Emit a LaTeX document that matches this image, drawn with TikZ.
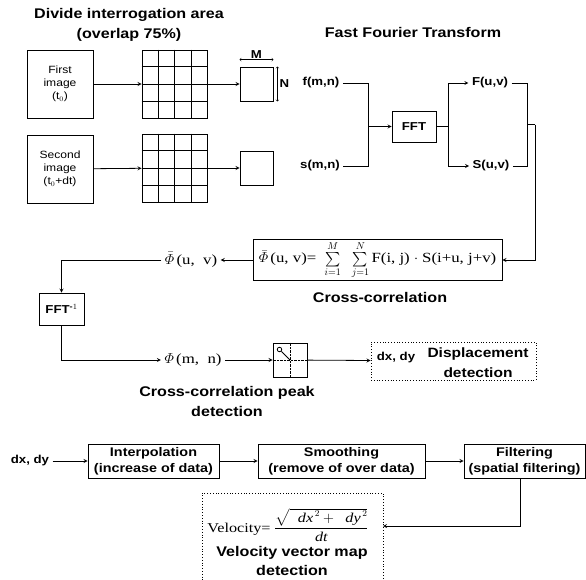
\documentclass[tikz,border=0pt]{standalone}
\usepackage{amsmath}
\usepackage{fontspec}
\setmainfont{Liberation Sans}[FakeStretch=1.15]
\newfontfamily\serif{Liberation Serif}[FakeStretch=1.2]
\usetikzlibrary{calc}
\tikzset{
    % lines and arrows
    myarr/.style={-stealth, thick},
    dimarr/.style={<->, thin},
    % boxes
    mybox/.style={draw, thick, align=center, inner sep=1pt},
    dotbox/.style={draw, dotted, thick},
    % texts
    myhead/.style={font=\fontsize{14}{20}\selectfont\bfseries, align=center},
    mylab/.style={font=\fontsize{11.5}{16}\selectfont\bfseries, align=center},
    boxlab/.style={font=\fontsize{12.5}{16}\selectfont\bfseries, align=center},
    mytxt/.style={font=\fontsize{10.5}{13}\selectfont, align=center},
    myser/.style={font=\serif\fontsize{14}{16}\selectfont}
}
\begin{document}
\begin{tikzpicture}[x=1pt, y=-1pt]
    \useasboundingbox (0,0) rectangle (586,579);

    % INTERROGATION AREAS
    \node (T1) at (129,25) [myhead] {Divide interrogation area\\(overlap 75\%)};
    \node (I1) at (60,84) [mybox, mytxt, minimum width=66, minimum height=68] {First\\image\\(t$_0$)};
    \node (I2) at (60,169) [mybox, mytxt, minimum width=66, minimum height=68] {Second\\image\\(t$_0$+dt)};
    \node (G1) at (174.5,84) [mybox, minimum width=65, minimum height=68] {};
    \node (G2) at (174.5,168) [mybox, minimum width=65, minimum height=68] {};
    \foreach \g in {G1,G2}{
        \foreach \f in {0.25,0.5,0.75}{
            \draw[thick] ($(\g.north west)!\f!(\g.north east)$) -- ($(\g.south west)!\f!(\g.south east)$);
            \draw[thick] ($(\g.north west)!\f!(\g.south west)$) -- ($(\g.north east)!\f!(\g.south east)$);
        }
    }
    \node (W1) at (256.5,84) [mybox, minimum width=33, minimum height=34] {};
    \node (W2) at (256.5,168) [mybox, minimum width=33, minimum height=34] {};
    \draw[dimarr] ([yshift=7pt]W1.north west) -- ([yshift=7pt]W1.north east) node[midway, above, inner sep=1pt, mylab] {M};
    \draw[dimarr] ([xshift=4pt]W1.north east) -- ([xshift=4pt]W1.south east) node[midway, right, inner sep=2pt, mylab] {N};

    % FFT
    \node (T2) at (413,32) [myhead] {Fast Fourier Transform};
    \node (f) at (321,83) [mylab] {f(m,n)};
    \node (s) at (320,166) [mylab] {s(m,n)};
    \node (FFT) at (414,126.5) [mybox, mylab, minimum width=44, minimum height=31] {FFT};
    \node (Fuv) at (490,83) [mylab] {F(u,v)};
    \node (Suv) at (491,166) [mylab] {S(u,v)};
    \coordinate (J1) at (368,126.5);
    \coordinate (J2) at (448,126.5);
    \coordinate (J3) at (527,124.5);
    \coordinate (J4) at (535,124.5);

    % CROSS-CORRELATION
    \node (X) at (377.5,260) [mybox, myser, minimum width=249, minimum height=41]
        {$\bar{\varPhi}$\,(u,\ v)=\ \ $\sum\limits_{i=1}^{M}\ \ \sum\limits_{j=1}^{N}$\,F(i,\ j)\ $\cdot$\ S(i+u,\ j+v)};
    \node (T3) at (380,297) [myhead] {Cross-correlation};
    \node (Puv) at (191,260) [myser] {$\bar{\varPhi}$\,(u,\ \ v)};
    \node (FFTi) at (61.5,309) [mybox, mylab, minimum width=45, minimum height=32] {FFT$^{\text{-}1}$};
    \node (Pmn) at (193,360) [myser] {$\varPhi$\,(m,\ \ n)};

    % PEAK DETECTION
    \node (PK) at (290,360) [mybox, minimum width=34, minimum height=34] {};
    \draw[densely dotted, thin] (PK.west) -- (PK.east);
    \draw[densely dotted, thin] (PK.north) -- (PK.south);
    \node (PKc) at (279.5,349.5) [draw, thick, circle, inner sep=1.6pt] {};
    \draw[thick] (PKc) -- (PK.center);
    \node (T4) at (227,401) [myhead] {Cross-correlation peak\\detection};
    \node (D) at (453.5,361) [dotbox, minimum width=165, minimum height=38] {};
    \node (D1) at (396,358) [mylab] {dx, dy};
    \node (D2) at (478,363) [myhead, font=\fontsize{13.5}{20}\selectfont\bfseries] {Displacement\\detection};

    % POST-PROCESSING
    \node (dxdy) at (30,461) [mylab] {dx, dy};
    \node (B1) at (153.5,461) [mybox, boxlab, minimum width=131, minimum height=34] {Interpolation\\(increase of data)};
    \node (B2) at (341.5,461) [mybox, boxlab, minimum width=167, minimum height=34] {Smoothing\\(remove of over data)};
    \node (B3) at (524.5,461) [mybox, boxlab, minimum width=121, minimum height=34] {Filtering\\(spatial filtering)};
    \node (V) at (292.5,539) [dotbox, minimum width=181, minimum height=92] {};
    \node (V1) at (288,525) [font=\serif\fontsize{13.5}{15}\selectfont, inner sep=0pt]
        {Velocity=\;$\dfrac{\sqrt{\ \ \textit{dx}^{\,2}+\ \ \textit{dy}^{\,2}}}{\textit{dt}}$};
    \node (V2) at (292,561) [myhead, font=\fontsize{14}{19}\selectfont\bfseries] {Velocity vector map\\detection};
    \coordinate (Vin) at (383,526);

    % ARROWS
    \draw[myarr] (I1) -- (G1);
    \draw[myarr] (I2) -- (G2);
    \draw[myarr] (G1) -- (W1);
    \draw[myarr] (G2) -- (W2);
    \draw[thick] (f) -| (J1);
    \draw[thick] (s) -| (J1);
    \draw[myarr] (J1) -- (FFT);
    \draw[thick] (FFT) -- (J2);
    \draw[myarr] (J2) |- (Fuv);
    \draw[myarr] (J2) |- (Suv);
    \draw[thick] (Fuv) -| (J3);
    \draw[thick] (Suv) -| (J3);
    \draw[thick] (J3) -- (J4);
    \draw[myarr] (J4) |- (X);
    \draw[myarr] (X) -- (Puv);
    \draw[myarr] (Puv) -| (FFTi);
    \draw[myarr] (FFTi) |- (Pmn);
    \draw[myarr] (Pmn) -- (PK);
    \draw[myarr] (PK) -- (D);
    \draw[myarr] (dxdy) -- (B1);
    \draw[myarr] (B1) -- (B2);
    \draw[myarr] (B2) -- (B3);
    \draw[myarr] ([xshift=-4.5pt]B3.south) |- (Vin);

\end{tikzpicture}
\end{document}
